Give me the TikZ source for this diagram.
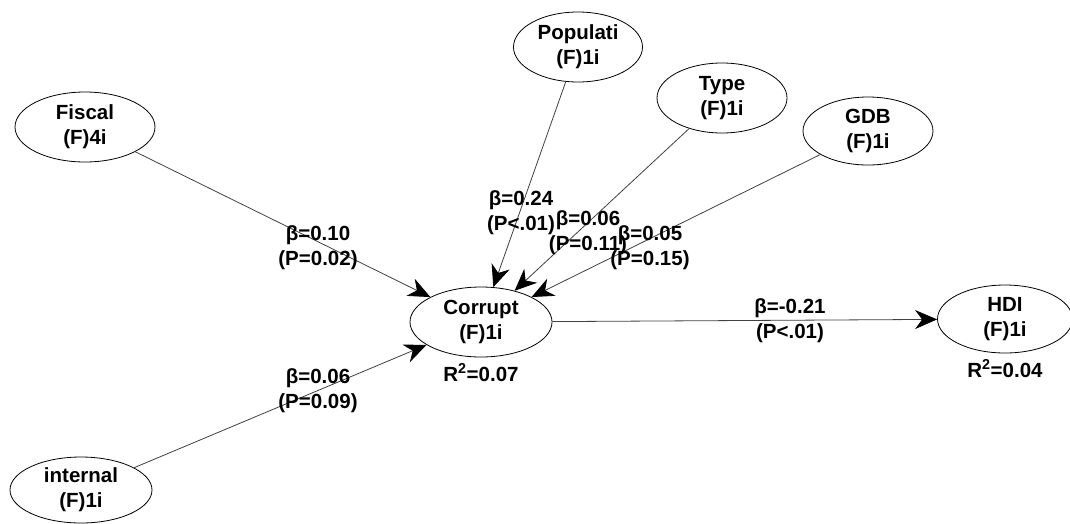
\documentclass[tikz,border=0pt]{standalone}
\usepackage{fontspec}
\setmainfont{Liberation Sans}
\usetikzlibrary{shapes.geometric,arrows.meta}

\begin{document}
\begin{tikzpicture}[x=1pt,y=-1pt,
font=\fontsize{20.5}{25}\selectfont\bfseries,
latent/.style={draw,ellipse,line width=.8pt,minimum width=140pt,minimum height=70pt,inner sep=0pt,align=center},
path/.style={draw=black!75,line width=.8pt,-{Stealth[length=22pt,width=19pt,inset=7pt,color=black]}},
coef/.style={align=center,inner sep=0pt},
rsq/.style={label distance=3pt}]
\useasboundingbox (0,0) rectangle (1070,523);
\node (fisc) [latent] at (85,127) {Fiscal\\(F)4i};
\node (popu) [latent,minimum width=129pt] at (578,47) {Populati\\(F)1i};
\node (type) [latent,minimum width=130pt] at (722,98) {Type\\(F)1i};
\node (gdb) [latent,minimum width=130pt,minimum height=68pt] at (868,131) {GDB\\(F)1i};
\node (corr) [latent,minimum width=142pt,
    label={[rsq]below:R\textsuperscript{2}=0.07}] at (481,322) {Corrupt\\(F)1i};
\node (hdi) [latent,minimum width=135pt,minimum height=68pt,
    label={[rsq]below:R\textsuperscript{2}=0.04}] at (1005,319) {HDI\\(F)1i};
\node (intl) [latent,minimum width=142pt,minimum height=66pt] at (81,490) {internal\\(F)1i};

\draw [path] (fisc) -- (corr);
\draw [path] (intl) -- (corr);
\draw [path] (popu) -- (corr);
\draw [path] (type) -- (corr);
\draw [path] (gdb) -- (corr);
\draw [path] (corr) -- (hdi);

\node (cfisc) [coef] at (318,248) {β=0.10\\(P=0.02)};
\node (cintl) [coef] at (318,391) {β=0.06\\(P=0.09)};
\node (cpopu) [coef] at (521,213) {β=0.24\\(P<.01)};
\node (ctype) [coef] at (588,233) {β=0.06\\(P=0.11)};
\node (cgdb) [coef] at (650,248) {β=0.05\\(P=0.15)};
\node (chdi) [coef] at (790,321) {β=-0.21\\(P<.01)};
\end{tikzpicture}
\end{document}
